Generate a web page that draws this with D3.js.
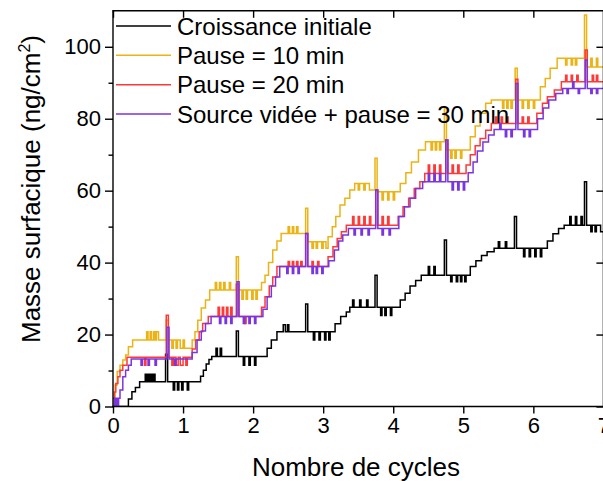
<!DOCTYPE html>
<html><head><meta charset="utf-8">
<script src="https://cdn.jsdelivr.net/npm/d3@7"></script>
<style>body{margin:0;background:#fff;} svg{display:block;}</style>
</head><body>
<svg id="c" width="603" height="481"></svg>
<script>
// ---- data (x = cycles, y = ng/cm2), step-after samples ----
const seriesNames = ["Croissance initiale", "Pause = 10 min", "Pause = 20 min", "Source vidée + pause = 30 min"];
const seriesColors = ["#000000", "#EBB414", "#FF3838", "#7A35DE"];
const xTicks = [0,1,2,3,4,5,6,7];
const yTicks = [0,20,40,60,80,100];
const yMinor = [10,30,50,70,90];

const croissance = [0,0, 0.22,2.1, 0.27,4.1, 0.32,5.3, 0.38,6.9, 0.46,9.0, 0.48,6.9, 0.5,9.0, 0.52,6.9, 0.54,9.0, 0.56,6.9, 0.58,9.0, 0.6,6.9, 0.75,14.5, 0.78,6.9, 0.86,4.6, 0.88,6.9, 0.92,4.6, 0.94,6.9, 0.98,4.6, 1.0,6.9, 1.06,4.6, 1.08,6.9, 1.25,8.4, 1.29,10.1, 1.33,11.8, 1.37,13.1, 1.41,13.9, 1.47,16.2, 1.49,13.9, 1.53,16.2, 1.55,13.9, 1.76,21, 1.79,13.9, 1.86,11.5, 1.88,13.9, 1.94,11.5, 1.96,13.9, 2.02,11.5, 2.04,13.9, 2.2,16.2, 2.26,18.5, 2.34,20.8, 2.43,22.7, 2.46,20.8, 2.49,22.7, 2.51,20.8, 2.75,28.5, 2.78,20.8, 2.86,18.5, 2.88,20.8, 2.94,18.5, 2.96,20.8, 3.02,18.5, 3.04,20.8, 3.08,18.5, 3.1,20.8, 3.17,23, 3.25,25, 3.33,26.3, 3.38,27.6, 3.42,29.6, 3.44,27.6, 3.52,29.6, 3.54,27.6, 3.62,29.6, 3.64,27.6, 3.74,36.5, 3.77,27.6, 3.82,25.3, 3.84,27.6, 3.88,25.3, 3.9,27.6, 3.96,25.3, 3.98,27.6, 4.1,29.6, 4.17,31.5, 4.24,33.5, 4.32,35, 4.4,36.5, 4.5,38.9, 4.52,36.5, 4.58,38.9, 4.6,36.5, 4.73,46.3, 4.76,36.5, 4.82,34.7, 4.84,36.5, 4.9,34.7, 4.92,36.5, 4.96,34.7, 4.98,36.5, 5.02,34.7, 5.04,36.5, 5.1,38.9, 5.18,40.5, 5.26,42, 5.34,43, 5.44,44, 5.5,45.8, 5.52,44, 5.6,45.8, 5.62,44, 5.73,52.8, 5.76,44, 5.86,41.6, 5.88,44, 5.94,41.6, 5.96,44, 6.02,41.6, 6.04,44, 6.1,41.6, 6.12,44, 6.2,46, 6.28,48, 6.36,49.5, 6.44,50.4, 6.52,52.8, 6.54,50.4, 6.6,52.8, 6.62,50.4, 6.68,52.8, 6.7,50.4, 6.73,62.5, 6.76,50.4, 6.82,48.6, 6.84,50.4, 6.88,48.6, 6.9,50.4, 6.96,48.6, 7.0,48.6];

const pause10 = [0,0, 0.03,6, 0.06,9.7, 0.1,11.5, 0.14,12.9, 0.18,14.3, 0.22,16.6, 0.28,18.5, 0.48,20.8, 0.5,18.5, 0.53,20.8, 0.55,18.5, 0.58,20.8, 0.6,18.5, 0.62,20.8, 0.65,18.5, 0.76,24, 0.79,18.5, 0.84,16.2, 0.86,18.5, 0.9,16.2, 0.92,18.5, 0.96,16.2, 1.0,18.5, 1.02,16.2, 1.13,18.5, 1.17,20.8, 1.21,24, 1.26,27.4, 1.32,29.6, 1.38,32.4, 1.46,34.5, 1.48,32.4, 1.52,34.5, 1.54,32.4, 1.58,34.5, 1.6,32.4, 1.66,34.5, 1.68,32.4, 1.76,41.6, 1.79,32.4, 1.84,29.8, 1.86,32.4, 1.9,29.8, 1.92,32.4, 1.98,29.8, 2.0,32.4, 2.04,29.8, 2.06,32.4, 2.12,34.5, 2.17,36.5, 2.22,40, 2.28,43.5, 2.34,46, 2.4,48.1, 2.5,50, 2.52,48.1, 2.56,50, 2.58,48.1, 2.62,50, 2.64,48.1, 2.75,55.1, 2.78,45.8, 2.84,44, 2.86,45.8, 2.9,44, 2.92,45.8, 2.98,44, 3.0,45.8, 3.04,44, 3.07,47.2, 3.13,50, 3.18,52.8, 3.24,56, 3.31,57.9, 3.38,60.2, 3.45,62, 3.5,60.2, 3.52,62, 3.58,60.2, 3.6,62, 3.66,60.2, 3.74,69, 3.77,59.7, 3.84,57.4, 3.86,59.7, 3.92,57.4, 3.94,59.7, 4.0,57.4, 4.02,59.7, 4.1,62, 4.18,65, 4.26,68, 4.36,71.3, 4.46,73.6, 4.54,71.3, 4.56,73.6, 4.6,71.3, 4.62,73.6, 4.66,71.3, 4.68,73.6, 4.73,83, 4.76,71.3, 4.82,69, 4.84,71.3, 4.88,69, 4.9,71.3, 4.96,69, 4.98,71.3, 5.1,75, 5.17,78, 5.24,81.5, 5.32,84.3, 5.4,85.2, 5.56,82.9, 5.58,85.2, 5.62,82.9, 5.64,85.2, 5.68,82.9, 5.7,85.2, 5.74,94, 5.77,85.2, 5.84,82.9, 5.86,85.2, 5.92,82.9, 5.94,85.2, 6.0,82.9, 6.02,85.2, 6.1,88.9, 6.17,91.2, 6.24,94, 6.34,96.8, 6.46,94.9, 6.48,96.8, 6.54,94.9, 6.56,96.8, 6.6,94.9, 6.62,96.8, 6.73,108.8, 6.76,94.4, 6.82,96.8, 6.84,94.4, 6.9,96.8, 6.92,94.4, 7.0,94.4];

const pause20 = [0,0, 0.02,4, 0.04,6.4, 0.07,8.3, 0.1,10.1, 0.14,11.5, 0.2,13.7, 0.45,11.5, 0.47,13.7, 0.76,25.4, 0.79,13.7, 0.84,11.5, 0.86,13.7, 0.9,11.5, 0.93,13.7, 0.96,11.5, 1.0,13.7, 1.04,11.5, 1.06,13.7, 1.13,16, 1.18,18.5, 1.23,20.8, 1.28,23.1, 1.36,25, 1.5,27.6, 1.52,25, 1.56,27.6, 1.58,25, 1.62,27.6, 1.64,25, 1.68,27.6, 1.7,25, 1.76,34, 1.79,25, 1.88,23.1, 1.9,25, 2.12,27.6, 2.17,30.5, 2.23,33.5, 2.28,36, 2.34,38.9, 2.5,40.3, 2.52,38.9, 2.56,40.3, 2.58,38.9, 2.62,40.3, 2.64,38.9, 2.68,40.3, 2.7,38.9, 2.75,48.1, 2.78,38.9, 2.84,40.3, 2.86,38.9, 2.92,40.3, 2.94,38.9, 3.07,41.6, 3.14,44.4, 3.2,46.7, 3.26,48.6, 3.33,50.4, 3.42,52.8, 3.44,50.4, 3.5,52.8, 3.52,50.4, 3.58,52.8, 3.6,50.4, 3.66,52.8, 3.68,50.4, 3.75,60.2, 3.78,50.4, 3.84,52.8, 3.86,50.4, 3.92,52.8, 3.94,50.4, 4.07,52.8, 4.14,55.5, 4.22,57.9, 4.3,60.6, 4.38,62.5, 4.45,64.8, 4.5,67.1, 4.52,64.8, 4.58,67.1, 4.6,64.8, 4.66,67.1, 4.68,64.8, 4.75,74.1, 4.78,64.8, 4.84,67.1, 4.86,64.8, 4.92,67.1, 4.94,64.8, 5.04,67.1, 5.1,70, 5.17,72.5, 5.24,74.5, 5.32,76.8, 5.4,78.7, 5.46,80.5, 5.48,78.7, 5.54,80.5, 5.56,78.7, 5.62,80.5, 5.64,78.7, 5.75,91, 5.78,78.7, 5.84,80.5, 5.86,78.7, 5.92,80.5, 5.94,78.7, 6.05,81.5, 6.13,84.3, 6.2,86.1, 6.3,88, 6.4,90.3, 6.46,92.1, 6.48,90.3, 6.54,92.1, 6.56,90.3, 6.62,92.1, 6.64,90.3, 6.74,99.1, 6.77,90.3, 6.84,92.1, 6.86,90.3, 6.9,92.1, 6.92,90.3, 7.0,90.3];

const pause30 = [0,2.3, 0.02,0, 0.04,2.3, 0.06,0, 0.08,2.3, 0.1,4.6, 0.14,8.3, 0.18,10.1, 0.22,11.5, 0.26,13.2, 0.4,11.5, 0.42,13.2, 0.5,11.5, 0.52,13.2, 0.6,11.5, 0.62,13.2, 0.77,22, 0.8,13.2, 0.88,11.5, 0.9,13.2, 1.13,15, 1.2,18.5, 1.26,21, 1.32,23.1, 1.4,25, 1.52,23.1, 1.54,25, 1.6,23.1, 1.62,25, 1.68,23.1, 1.7,25, 1.77,34.7, 1.8,25, 1.86,23.1, 1.88,25, 1.94,23.1, 1.96,25, 2.02,23.1, 2.04,25, 2.14,27, 2.2,30.5, 2.26,33.5, 2.32,36, 2.38,38.9, 2.48,37, 2.5,38.9, 2.56,37, 2.58,38.9, 2.64,37, 2.66,38.9, 2.75,48.1, 2.78,38.9, 2.84,37, 2.86,38.9, 2.9,37, 2.92,38.9, 2.98,37, 3.0,38.9, 3.08,40.5, 3.16,43.5, 3.22,46, 3.28,47.7, 3.36,49.5, 3.44,47.7, 3.46,49.5, 3.54,47.7, 3.56,49.5, 3.64,47.7, 3.66,49.5, 3.75,60.2, 3.78,49.5, 3.84,47.7, 3.86,49.5, 3.94,47.7, 3.96,49.5, 4.08,52.8, 4.16,55.5, 4.24,57.9, 4.32,60.6, 4.42,62.5, 4.5,64.8, 4.52,62.5, 4.58,64.8, 4.6,62.5, 4.66,64.8, 4.68,62.5, 4.75,74.1, 4.78,62.5, 4.84,60.2, 4.86,62.5, 4.92,60.2, 4.94,62.5, 5.0,60.2, 5.02,62.5, 5.07,65, 5.14,68, 5.2,71, 5.28,73.5, 5.36,75.5, 5.44,77, 5.52,78.7, 5.54,77, 5.6,75, 5.62,77, 5.68,75, 5.7,77, 5.75,89.8, 5.78,77, 5.86,75, 5.88,77, 5.94,75, 5.96,77, 6.06,80, 6.14,83, 6.22,85.2, 6.32,87, 6.42,88.4, 6.48,87, 6.5,88.4, 6.56,90.3, 6.58,88.4, 6.64,87, 6.66,88.4, 6.74,96.3, 6.77,88.4, 6.82,87, 6.84,88.4, 6.9,87, 6.92,88.4, 7.0,88.4];

const seriesData = [croissance, pause10, pause20, pause30];

// ---- layout ----
const svg = d3.select("#c");
const L = 113, R = 603.4, T = 10.8, B = 406.5;
const x = d3.scaleLinear().domain([0,7]).range([L,R]);
const y = d3.scaleLinear().domain([0,110]).range([B,T]);
const FONT = "'Liberation Sans', Arial, sans-serif";

svg.append("defs").append("clipPath").attr("id","clip")
  .append("rect").attr("x",L).attr("y",T).attr("width",R-L).attr("height",B-T);

const toPts = a => { const p=[]; for (let i=0;i<a.length;i+=2) p.push([a[i],a[i+1]]); return p; };
const line = d3.line().x(d=>x(d[0])).y(d=>y(d[1])).curve(d3.curveStepAfter);

const g = svg.append("g").attr("clip-path","url(#clip)");
seriesData.forEach((s,i)=>{
  g.append("path").datum(toPts(s)).attr("d",line)
   .attr("fill","none").attr("stroke",seriesColors[i]).attr("stroke-width",1.5)
   .attr("stroke-linejoin","miter");
});

// axes frame
const ax = svg.append("g").attr("stroke","#000").attr("stroke-width",1.4).attr("fill","none");
ax.append("line").attr("x1",L).attr("x2",L).attr("y1",T).attr("y2",B+0.7);
ax.append("line").attr("x1",L-0.7).attr("x2",R).attr("y1",B).attr("y2",B);
ax.append("line").attr("x1",L-0.7).attr("x2",R).attr("y1",T).attr("y2",T);
ax.append("line").attr("x1",R).attr("x2",R).attr("y1",T).attr("y2",B);

const axBottom = d3.axisBottom(x).tickValues(xTicks).tickFormat(d3.format("d")).tickSize(7).tickSizeOuter(0).tickPadding(4);
const gb = svg.append("g").attr("transform",`translate(0,${B})`).call(axBottom);
const axTop = d3.axisTop(x).tickValues(xTicks).tickFormat("").tickSize(-7).tickSizeOuter(0);
const gt = svg.append("g").attr("transform",`translate(0,${T})`).call(axTop);
const axLeft = d3.axisLeft(y).tickValues(yTicks).tickFormat(d3.format("d")).tickSize(8).tickSizeOuter(0).tickPadding(4);
const gl = svg.append("g").attr("transform",`translate(${L},0)`).call(axLeft);
const axLeftMinor = d3.axisLeft(y).tickValues(yMinor).tickFormat("").tickSize(4.5).tickSizeOuter(0);
const glm = svg.append("g").attr("transform",`translate(${L},0)`).call(axLeftMinor);
const axRight = d3.axisRight(y).tickValues(yTicks).tickFormat("").tickSize(-7).tickSizeOuter(0);
const gr = svg.append("g").attr("transform",`translate(${R},0)`).call(axRight);

[gb,gt,gl,glm,gr].forEach(a=>{
  a.select(".domain").remove();
  a.selectAll(".tick line").attr("stroke","#000").attr("stroke-width",1.4);
  a.selectAll("text").attr("font-family",FONT).attr("font-size",22).attr("fill","#000");
});

// axis titles
svg.append("text").attr("x",356).attr("y",476).attr("text-anchor","middle")
  .attr("font-family",FONT).attr("font-size",26).text("Nombre de cycles");
const yt = svg.append("text").attr("transform","translate(40,189) rotate(-90)").attr("text-anchor","middle")
  .attr("font-family",FONT).attr("font-size",26);
yt.append("tspan").text("Masse surfacique (ng/cm");
yt.append("tspan").attr("font-size",16).attr("dy",-10).text("2");
yt.append("tspan").attr("dy",10).text(")");

// legend
const lg = svg.append("g");
const rowY = [26, 55.3, 84.7, 114];
seriesNames.forEach((n,i)=>{
  lg.append("line").attr("x1",116).attr("x2",171).attr("y1",rowY[i]).attr("y2",rowY[i])
    .attr("stroke",seriesColors[i]).attr("stroke-width",1.5);
  lg.append("text").attr("x",177).attr("y",rowY[i]).attr("dy","0.36em")
    .attr("font-family",FONT).attr("font-size",24).attr("fill","#000").text(n);
});
</script>
</body></html>
